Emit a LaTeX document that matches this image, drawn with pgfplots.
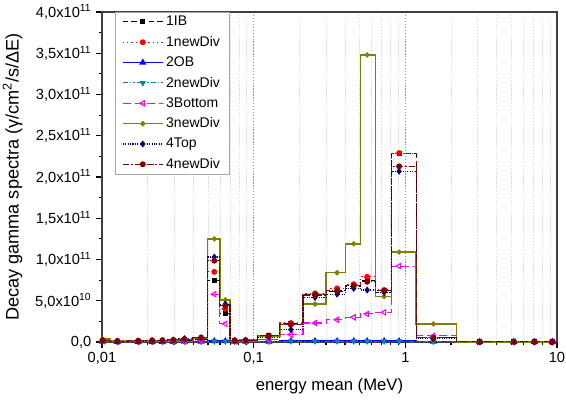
\documentclass[border=0pt]{standalone}
\usepackage{fontspec}
\setmainfont{Liberation Sans}
\usepackage{pgfplots}
\pgfplotsset{compat=1.18}
\usepackage{pgfplotstable}

\definecolor{cib}{RGB}{0,0,0}
\definecolor{cnda}{RGB}{255,0,0}
\definecolor{cob}{RGB}{0,0,255}
\definecolor{cndb}{RGB}{0,140,140}
\definecolor{cbot}{RGB}{255,0,255}
\definecolor{cndc}{RGB}{128,128,0}
\definecolor{ctop}{RGB}{0,0,128}
\definecolor{cndd}{RGB}{128,0,0}

% energy mean (MeV) and spectra in units of 1e10
\pgfplotstableread{
x       ib    nda   ob    ndb   bot   ndc   top   ndd
0.0101  0.15  0.2   0.05  0.05  0.1   0.35  0.2   0.2
0.0126  0.05  0.1   0.03  0.03  0.05  0.1   0.1   0.1
0.0173  0.05  0.1   0.03  0.03  0.05  0.1   0.1   0.15
0.0214  0.1   0.15  0.03  0.03  0.05  0.15  0.15  0.2
0.025   0.1   0.15  0.03  0.03  0.1   0.15  0.2   0.2
0.0295  0.15  0.2   0.03  0.03  0.1   0.2   0.25  0.25
0.035   0.2   0.3   0.05  0.05  0.1   0.3   0.4   0.35
0.045   0.3   0.4   0.05  0.05  0.2   0.5   0.5   0.55
0.055   7.5   8.5   0.1   0.1   5.8   12.5  10.3  9.85
0.065   3.5   4.0   0.1   0.1   2.2   5.1   4.6   4.4
0.075   0.15  0.2   0.05  0.05  0.1   0.2   0.2   0.15
0.0885  0.15  0.2   0.05  0.05  0.1   0.3   0.2   0.2
0.126   0.75  0.8   0.05  0.05  0.3   0.7   0.6   0.75
0.176   2.2   2.3   0.1   0.1   0.9   2.1   1.5   2.1
0.254   5.8   5.9   0.1   0.1   2.3   4.6   5.4   5.7
0.355   6.1   6.5   0.1   0.1   2.7   8.4   5.8   6.2
0.457   6.7   7.0   0.1   0.1   3.0   11.9  6.5   6.8
0.56    7.4   7.9   0.1   0.1   3.4   34.8  6.3   7.3
0.725   6.2   6.3   0.1   0.1   3.6   5.5   6.0   6.2
0.91    22.8  22.9  0.1   0.1   9.2   10.9  20.7  21.3
1.53    0.6   0.6   0.05  0.05  0.75  2.2   0.4   0.5
3.09    0.02  0.02  0.02  0.02  0.02  0.02  0.02  0.02
5.19    0.02  0.02  0.02  0.02  0.02  0.02  0.02  0.02
7.1     0.02  0.02  0.02  0.02  0.02  0.02  0.02  0.02
9.3     0.02  0.02  0.02  0.02  0.02  0.02  0.02  0.02
}\data

\begin{document}
\begin{tikzpicture}
\begin{axis}[
    scale only axis,
    width=341.25pt, height=247.5pt,
    xmode=log, xmin=0.01, xmax=10,
    ymin=0, ymax=40,
    xtick={0.01,0.1,1,10},
    xticklabels={{0,01},{0,1},{1},{10}},
    minor xtick={0.02,0.03,0.04,0.05,0.06,0.07,0.08,0.09,0.2,0.3,0.4,0.5,0.6,0.7,0.8,0.9,2,3,4,5,6,7,8,9},
    ytick={0,5,10,15,20,25,30,35,40},
    yticklabels={{0,0},{5,0x10\textsuperscript{10}},{1,0x10\textsuperscript{11}},{1,5x10\textsuperscript{11}},{2,0x10\textsuperscript{11}},{2,5x10\textsuperscript{11}},{3,0x10\textsuperscript{11}},{3,5x10\textsuperscript{11}},{4,0x10\textsuperscript{11}}},
    minor y tick num=1,
    tick align=outside,
    xtick pos=bottom, ytick pos=left,
    major tick length=4.5pt, minor tick length=2.5pt,
    tick style={black, line width=0.8pt},
    xmajorgrids, xminorgrids,
    major grid style={gray!85, line width=0.6pt, dash pattern=on 1pt off 1.2pt},
    minor grid style={gray!30, line width=0.5pt, dash pattern=on 1pt off 1.2pt},
    axis line style={black!75, line width=0.9pt},
    tick label style={font=\fontsize{11}{13}\selectfont},
    xlabel={energy mean (MeV)},
    ylabel={Decay gamma spectra (γ/cm\textsuperscript{2}/s/ΔE)},
    xlabel style={font=\fontsize{12.5}{15}\selectfont, at={(axis description cs:0.5,0)}, anchor=center, yshift=-33.5pt},
    ylabel style={font=\fontsize{13.6}{16}\selectfont, at={(axis description cs:0,0.5)}, anchor=center, yshift=67pt},
    legend cell align=left,
    legend style={at={(rel axis cs:0.0286,1)}, anchor=north west,
        draw=gray!70, line width=0.6pt, font=\fontsize{10.5}{12.6}\selectfont,
        row sep=2.3pt, inner xsep=5pt, inner ysep=0.8pt},
    legend image code/.code={\draw[mark repeat=2,mark phase=2] plot coordinates {(3pt,0pt) (18pt,0pt) (33pt,0pt)};},
    every axis plot/.append style={const plot mark mid, line width=0.8pt},
]
\coordinate (ll) at (rel axis cs:0,0);
\coordinate (ur) at (rel axis cs:1,1);
\addplot[cib, dash pattern=on 4pt off 2.5pt, mark=square*, mark size=1.5pt, mark options={solid}] table[x=x,y=ib]{\data};
\addplot[cnda, dash pattern=on 1pt off 2.2pt, mark=*, mark size=1.8pt, mark options={solid}] table[x=x,y=nda]{\data};
\addplot[cob, line width=1.1pt, mark=triangle*, mark size=2pt, mark options={solid}] table[x=x,y=ob]{\data};
\addplot[cndb, dash pattern=on 4pt off 1.5pt on 1pt off 1.5pt on 1pt off 1.5pt, mark=triangle*, mark size=2pt, mark options={solid, rotate=180}] table[x=x,y=ndb]{\data};
\addplot[cbot, dash pattern=on 6pt off 3pt, mark=triangle, mark size=2.3pt, mark options={solid, rotate=90}] table[x=x,y=bot]{\data};
\addplot[cndc, line width=1.1pt, mark=*, mark size=1.4pt, mark options={solid}] table[x=x,y=ndc]{\data};
\addplot[ctop, dash pattern=on 0.8pt off 1pt, mark=diamond*, mark size=2pt, mark options={solid}] table[x=x,y=top]{\data};
\addplot[cndd, dash pattern=on 5pt off 1.5pt on 1pt off 1.5pt, mark=*, mark size=1.8pt, mark options={solid}] table[x=x,y=ndd]{\data};
\legend{1IB,1newDiv,2OB,2newDiv,3Bottom,3newDiv,4Top,4newDiv}
\end{axis}
\pgfresetboundingbox
\path ([shift={(-76.5pt,-43.5pt)}]ll) rectangle ([shift={(6.75pt,9pt)}]ur);
\end{tikzpicture}
\end{document}
